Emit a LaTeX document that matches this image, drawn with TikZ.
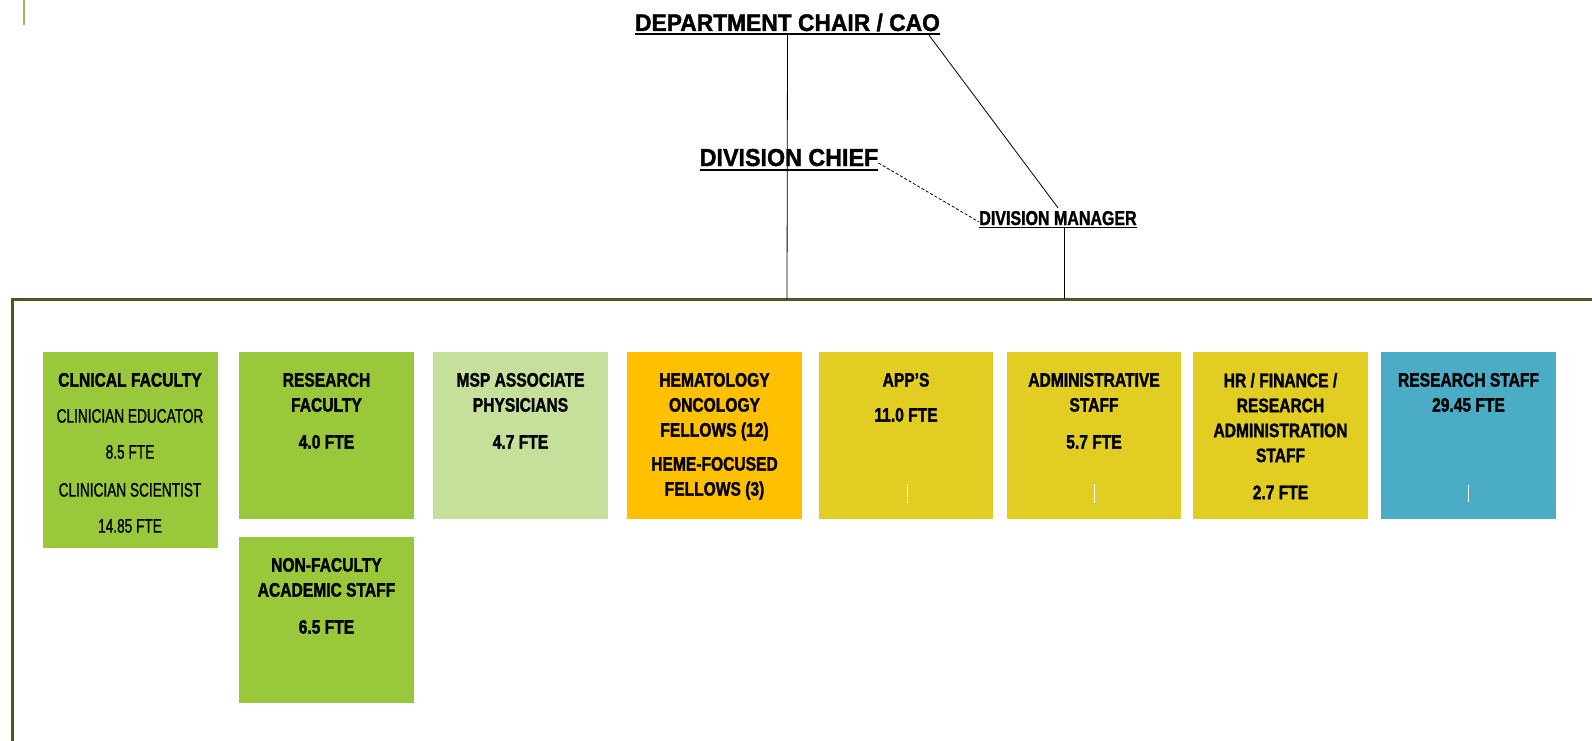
\documentclass[tikz,border=0pt]{standalone}
\usepackage{fontspec}
\setmainfont{Liberation Sans}
\newfontfamily\cajafont{Liberation Sans}[FakeStretch=0.8, BoldFeatures={FakeBold=1.5}]
\newfontfamily\finafont{Liberation Sans}[FakeStretch=0.7, FakeBold=1]
\newfontfamily\jefefont{Liberation Sans}[FakeStretch=0.95, BoldFeatures={FakeBold=1.5}]
\usetikzlibrary{positioning}

\definecolor{verde}{HTML}{99C93B}
\definecolor{verdepalido}{HTML}{C6E09B}
\definecolor{naranja}{HTML}{FFC000}
\definecolor{amarillo}{HTML}{E2CE22}
\definecolor{azul}{HTML}{4BACC6}
\definecolor{marcoc}{HTML}{4E5526}
\definecolor{raya}{HTML}{9BBB59}

\tikzset{
  caja/.style={rectangle, inner sep=0pt, minimum width=175pt, minimum height=167pt},
  texto/.style={inner sep=0pt, align=center, font=\cajafont\bfseries\fontsize{19.5}{25}\selectfont},
  titulo/.style={inner sep=0pt, anchor=base, font=\jefefont\bfseries\fontsize{24}{28}\selectfont},
  subraya/.style={line width=1.8pt},
  linea/.style={line width=0.8pt},
  marca/.style={white, line width=0.8pt}
}

\begin{document}
\begin{tikzpicture}[x=1pt, y=-1pt]
    \useasboundingbox (0,0) rectangle (1592,741);
    \clip (0,0) rectangle (1592,741);

    % Raya verde
    \draw[raya, line width=2pt] (24,0) -- (24,25);

    % Marco
    \draw[marcoc, line width=3pt] (1650,299) -- (12,299) -- (12,800);
    \coordinate (pieJefe) at (787,299);
    \coordinate (pieGerente) at (1064,299);

    % Jefes
    \node[titulo] (chair) at (787.5,31) {DEPARTMENT CHAIR / CAO};
    \node[titulo, font=\jefefont\bfseries\fontsize{24.5}{28}\selectfont] (chief) at (789,166) {DIVISION CHIEF};
    \node[titulo, font=\cajafont\bfseries\fontsize{20}{24}\selectfont] (manager) at (1058,225) {DIVISION MANAGER};
    \draw[subraya] ([yshift=-3pt]chair.base west) -- ([yshift=-3pt]chair.base east);
    \draw[subraya] ([yshift=-4pt]chief.base west) -- ([yshift=-4pt]chief.base east);
    \draw[subraya] ([yshift=-2.5pt]manager.base west) -- ([yshift=-2.5pt]manager.base east);

    % Lineas
    \draw[linea] ([yshift=-4pt]chair.base) -- (pieJefe);
    \draw[linea] ([xshift=-12pt, yshift=-3pt]chair.base east) -- ([yshift=3pt]manager.north);
    \draw[linea, dash pattern=on 3pt off 2pt] ([yshift=3pt]chief.base east) -- ([yshift=3pt]manager.base west);
    \draw[linea] ([xshift=6pt, yshift=-3pt]manager.base) -- (pieGerente);

    % Cajas
    \node[caja, fill=verde, minimum height=196pt] (clinica) at (130,450) {};
    \node[caja, fill=verde] (facultad) at (326.5,435.5) {};
    \node[caja, fill=verde, minimum height=166pt] (academico) at (326.5,620) {};
    \node[caja, fill=verdepalido] (msp) at (520.5,435.5) {};
    \node[caja, fill=naranja] (hemato) at (714.5,435.5) {};
    \node[caja, fill=amarillo, minimum width=174pt] (app) at (906,435.5) {};
    \node[caja, fill=amarillo, minimum width=174pt] (admin) at (1094,435.5) {};
    \node[caja, fill=amarillo] (rrhh) at (1280.5,435.5) {};
    \node[caja, fill=azul] (personal) at (1468.5,435.5) {};

    % Textos
    \node[texto, below=21pt of clinica.north] (clinicaT) {CLNICAL FACULTY\\[11pt]
      {\finafont\mdseries CLINICIAN EDUCATOR}\\[11pt]
      {\finafont\mdseries 8.5 FTE}\\[13pt]
      {\finafont\mdseries CLINICIAN SCIENTIST}\\[11pt]
      {\finafont\mdseries 14.85 FTE}};
    \node[texto, below=21pt of facultad.north] (facultadT) {RESEARCH\\FACULTY\\[12pt]4.0 FTE};
    \node[texto, below=21pt of academico.north] (academicoT) {NON-FACULTY\\ACADEMIC STAFF\\[12pt]6.5 FTE};
    \node[texto, below=21pt of msp.north] (mspT) {MSP ASSOCIATE\\PHYSICIANS\\[12pt]4.7 FTE};
    \node[texto, below=21pt of hemato.north] (hematoT) {HEMATOLOGY\\ONCOLOGY\\FELLOWS (12)\\[9pt]HEME-FOCUSED\\FELLOWS (3)};
    \node[texto, below=21pt of app.north] (appT) {APP’S\\[10pt]11.0 FTE};
    \node[texto, below=21pt of admin.north] (adminT) {ADMINISTRATIVE\\STAFF\\[12pt]5.7 FTE};
    \node[texto, below=21pt of rrhh.north] (rrhhT) {HR / FINANCE /\\RESEARCH\\ADMINISTRATION\\STAFF\\[12pt]2.7 FTE};
    \node[texto, below=21pt of personal.north] (personalT) {RESEARCH STAFF\\29.45 FTE};

    % Marcas blancas
    \draw[marca] ([xshift=1pt, yshift=35pt]app.south) -- ([xshift=1pt, yshift=16pt]app.south);
    \draw[marca] ([yshift=35pt]admin.south) -- ([yshift=16pt]admin.south);
    \draw[marca] ([yshift=34pt]personal.south) -- ([yshift=17pt]personal.south);
\end{tikzpicture}
\end{document}
